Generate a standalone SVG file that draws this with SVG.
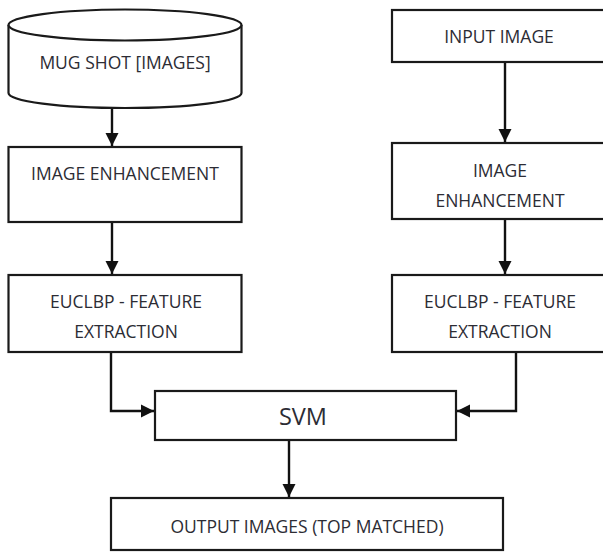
<svg xmlns="http://www.w3.org/2000/svg" width="603" height="552" viewBox="0 0 603 552">
<defs>
<style>
.box{fill:#fff;stroke:#1a1a1a;stroke-width:2.2}
.t{font-family:"Open Sans","Liberation Sans",sans-serif;font-size:17.5px;fill:#2c2c34;text-anchor:middle}
.big{font-size:23.5px}
.c{fill:none;stroke:#111;stroke-width:2.4}
</style>
<marker id="ah" markerUnits="userSpaceOnUse" markerWidth="14" markerHeight="14" viewBox="0 0 14 14" refX="13" refY="7" orient="auto">
<path d="M0,0.5 L13,7 L0,13.5 Z" fill="#111"/>
</marker>
</defs>
<rect width="603" height="552" fill="#fff"/>
<g id="connectors">
<path class="c" d="M112,108 V146" marker-end="url(#ah)"/>
<path class="c" d="M505,62 V142" marker-end="url(#ah)"/>
<path class="c" d="M112,222 V274" marker-end="url(#ah)"/>
<path class="c" d="M505,219 V274" marker-end="url(#ah)"/>
<path class="c" d="M111,352 V411 H154" marker-end="url(#ah)"/>
<path class="c" d="M516,352 V411 H457" marker-end="url(#ah)"/>
<path class="c" d="M289,440 V497" marker-end="url(#ah)"/>
</g>
<g id="mugshot">
<path class="box" d="M8.5,25 V93 A116.5,15 0 0 0 241.5,93 V25"/>
<ellipse class="box" cx="125" cy="25" rx="116.5" ry="15.5"/>
<text class="t" x="125" y="69">MUG SHOT [IMAGES]</text>
</g>
<g id="enh-left">
<rect class="box" x="8.5" y="147" width="233" height="75"/>
<text class="t" x="125" y="180">IMAGE ENHANCEMENT</text>
</g>
<g id="feat-left">
<rect class="box" x="8.5" y="275" width="233" height="77"/>
<text class="t" x="126" y="308">EUCLBP - FEATURE</text>
<text class="t" x="126" y="338">EXTRACTION</text>
</g>
<g id="input">
<rect class="box" x="392" y="10" width="220" height="52"/>
<text class="t" x="499" y="43">INPUT IMAGE</text>
</g>
<g id="enh-right">
<rect class="box" x="392" y="143" width="220" height="76"/>
<text class="t" x="500" y="177">IMAGE</text>
<text class="t" x="500" y="207">ENHANCEMENT</text>
</g>
<g id="feat-right">
<rect class="box" x="392" y="275" width="220" height="77"/>
<text class="t" x="500" y="308">EUCLBP - FEATURE</text>
<text class="t" x="500" y="338">EXTRACTION</text>
</g>
<g id="svm">
<rect class="box" x="155" y="391" width="301" height="49"/>
<text class="t big" x="303" y="425">SVM</text>
</g>
<g id="output">
<rect class="box" x="111" y="498" width="392" height="52"/>
<text class="t" x="307" y="533">OUTPUT IMAGES (TOP MATCHED)</text>
</g>
</svg>
